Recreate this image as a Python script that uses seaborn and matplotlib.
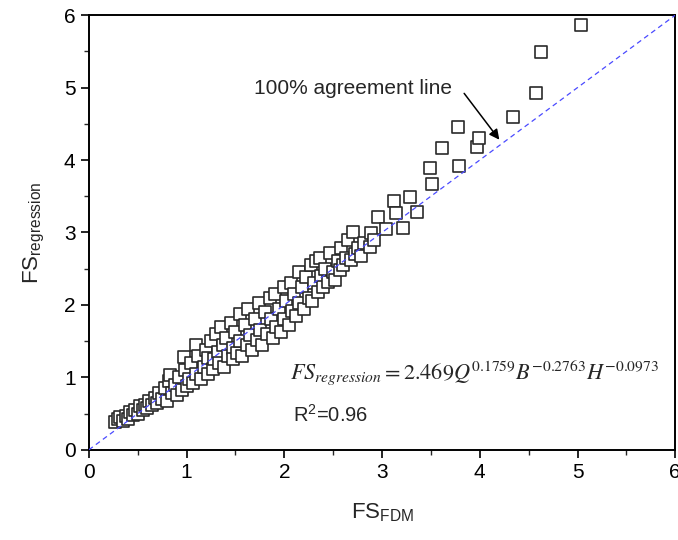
import matplotlib
matplotlib.use("Agg")
import matplotlib.pyplot as plt
import seaborn as sns
import pandas as pd

fs_fdm = [0.27,0.30,0.32,0.35,0.38,0.40,0.42,0.45,0.47,0.50,0.52,0.55,0.57,0.60,0.62,0.65,0.68,0.70,0.72,0.75,
          0.78,0.80,0.82,0.83,0.85,0.88,0.90,0.92,0.95,0.97,0.98,1.00,1.02,1.05,1.07,1.10,1.10,1.12,1.15,1.18,1.20,1.22,1.22,
          1.25,1.27,1.28,1.30,1.32,1.33,1.35,1.37,1.38,1.40,1.42,1.45,1.47,1.48,1.50,1.52,1.55,1.55,1.57,1.60,1.62,1.63,1.65,1.67,1.70,
          1.72,1.74,1.75,1.77,1.80,1.82,1.85,1.86,1.88,1.90,1.92,1.95,1.97,2.00,2.00,2.02,2.05,2.07,2.08,2.10,2.12,2.15,2.15,2.18,2.20,
          2.22,2.25,2.27,2.28,2.30,2.32,2.34,2.37,2.38,2.40,2.42,2.45,2.47,2.50,2.52,2.55,2.57,2.58,2.60,2.63,2.65,2.68,2.70,2.72,2.75,2.78,2.82,2.88,2.89,2.92,
          2.96,3.04,3.12,3.14,3.21,3.29,3.36,3.49,3.51,3.61,3.78,3.79,3.97,3.99,4.34,4.58,4.63,5.04]
fs_reg = [0.38,0.42,0.45,0.40,0.47,0.43,0.52,0.48,0.55,0.50,0.60,0.55,0.62,0.58,0.68,0.62,0.72,0.65,0.78,0.70,
          0.85,0.68,0.95,1.03,0.78,0.90,0.75,1.00,0.82,1.28,1.10,0.88,0.98,1.20,0.92,1.45,1.05,1.30,0.98,1.15,1.38,1.27,1.05,
          1.50,1.12,1.25,1.60,1.35,1.20,1.70,1.45,1.15,1.55,1.30,1.75,1.40,1.25,1.62,1.34,1.88,1.50,1.30,1.72,1.45,1.95,1.58,1.38,1.80,
          1.52,2.02,1.65,1.45,1.90,1.60,2.10,1.80,1.55,2.15,1.70,1.95,1.62,2.25,1.80,2.05,1.72,2.30,1.92,2.15,1.85,2.45,2.02,2.25,1.95,
          2.38,2.10,2.55,2.05,2.30,2.60,2.18,2.65,2.40,2.25,2.50,2.32,2.72,2.45,2.35,2.60,2.48,2.78,2.55,2.65,2.90,2.62,3.00,2.70,2.78,2.68,2.85,2.80,2.99,2.90,
          3.21,3.05,3.43,3.27,3.06,3.49,3.28,3.89,3.67,4.17,4.45,3.92,4.18,4.30,4.59,4.92,5.49,5.87]
diag = [0, 6]

df = pd.DataFrame({"fdm": fs_fdm, "reg": fs_reg})
ld = pd.DataFrame({"x": diag, "y": diag})

sns.set_style("ticks")
plt.rcParams['font.family'] = ['Liberation Sans', 'DejaVu Sans']
plt.rcParams['mathtext.fontset'] = 'custom'
plt.rcParams['mathtext.rm'] = 'Liberation Sans'

fig = plt.figure(figsize=(6.78, 5.4), dpi=100)
ax = fig.add_axes([0.131, 0.167, 0.865, 0.805])

sns.lineplot(data=ld, x="x", y="y", ax=ax, color="#4a4aff", lw=0.9,
             linestyle=(0, (4, 3)), zorder=3)
sns.scatterplot(data=df, x="fdm", y="reg", ax=ax, marker="s", s=80,
                facecolor="white", edgecolor="#2a2a2a", linewidth=1.2, zorder=2)

ax.set_xlim(0, 6)
ax.set_ylim(0, 6)
ax.set_xticks(range(7))
ax.set_yticks(range(7))
ax.set_xticks([0.5 + i for i in range(6)], minor=True)
ax.set_yticks([0.5 + i for i in range(6)], minor=True)
ax.tick_params(axis='both', which='major', direction='out', length=6, width=1.2,
               labelsize=15, colors='black', top=False, right=False)
ax.tick_params(axis='both', which='minor', direction='out', length=3.5, width=1.0,
               top=False, right=False)
for sp in ax.spines.values():
    sp.set_visible(True)
    sp.set_linewidth(1.4)
    sp.set_color('black')

ax.set_xlabel(r'FS$_{\mathregular{FDM}}$', fontsize=16, labelpad=14)
ax.set_ylabel(r'FS$_{\mathregular{regression}}$', fontsize=16, labelpad=12)

ax.text(1.69, 4.99, "100% agreement line", fontsize=15, va='center', ha='left')
ax.annotate("", xy=(4.20, 4.28), xytext=(3.84, 4.92),
            arrowprops=dict(arrowstyle='-|>', color='black', lw=1.1,
                            shrinkA=0, shrinkB=0, mutation_scale=15))

ax.text(2.06, 1.06,
        r'$\mathit{FS}_{\mathit{regression}}=2.469\mathit{Q}^{0.1759}\mathit{B}^{-0.2763}\mathit{H}^{-0.0973}$',
        fontsize=16, va='center', ha='left', math_fontfamily='stix')
ax.text(2.09, 0.48, r'R$^{\mathregular{2}}$=0.96', fontsize=14.5, va='center', ha='left')

fig.savefig("out.png", dpi=100)
